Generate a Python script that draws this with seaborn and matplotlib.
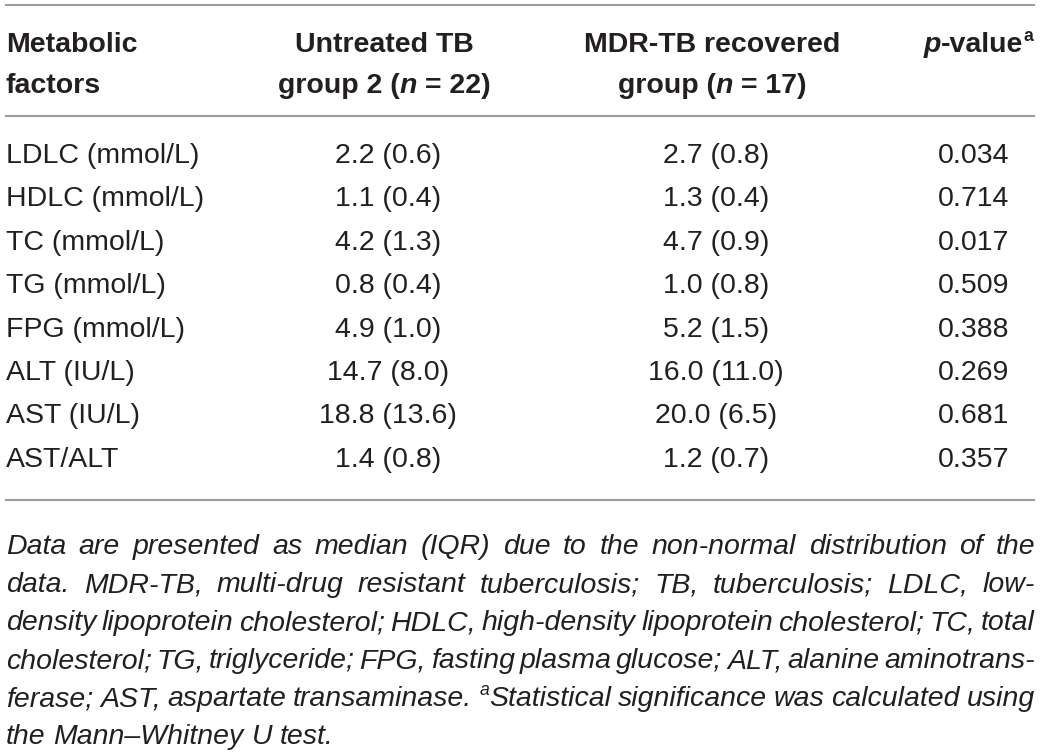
import matplotlib
matplotlib.use("Agg")
import matplotlib.pyplot as plt
import seaborn as sns

# table values
factors = ["LDLC (mmol/L)", "HDLC (mmol/L)", "TC (mmol/L)", "TG (mmol/L)",
           "FPG (mmol/L)", "ALT (IU/L)", "AST (IU/L)", "AST/ALT"]
untreated_median = [2.2, 1.1, 4.2, 0.8, 4.9, 14.7, 18.8, 1.4]
untreated_iqr = [0.6, 0.4, 1.3, 0.4, 1.0, 8.0, 13.6, 0.8]
recovered_median = [2.7, 1.3, 4.7, 1.0, 5.2, 16.0, 20.0, 1.2]
recovered_iqr = [0.8, 0.4, 0.9, 0.8, 1.5, 11.0, 6.5, 0.7]
p_values = [0.034, 0.714, 0.017, 0.509, 0.388, 0.269, 0.681, 0.357]

footnote_lines = [
    "Data are presented as median (IQR) due to the non-normal distribution of the",
    "data. MDR-TB, multi-drug resistant tuberculosis; TB, tuberculosis; LDLC, low-",
    "density lipoprotein cholesterol; HDLC, high-density lipoprotein cholesterol; TC, total",
    "cholesterol; TG, triglyceride; FPG, fasting plasma glucose; ALT, alanine aminotrans-",
    "ferase; AST, aspartate transaminase. {a}Statistical significance was calculated using",
    "the Mann\u2013Whitney U test.",
]

sns.set_theme(style="white")
plt.rcParams["font.family"] = ["Liberation Sans", "DejaVu Sans"]

TXT = "#231f20"
FS = 20.5
REG = dict(fontsize=FS, color=TXT)
BOLD = dict(fontsize=FS, color=TXT, fontweight="bold")
BOLDIT = dict(fontsize=FS, color=TXT, fontweight="bold", fontstyle="italic")
ITAL = dict(fontsize=FS, color=TXT, fontstyle="italic")

W, H = 1040, 754
fig = plt.figure(figsize=(W / 100, H / 100), dpi=100)
ax = fig.add_axes([0, 0, 1, 1])
ax.set_xlim(0, W)
ax.set_ylim(H, 0)
ax.axis("off")
renderer = fig.canvas.get_renderer()


def split_style(st):
    d = dict(st)
    is_sup = d.pop("sup", False)
    return d, is_sup


def text_width(s, **kw):
    t = ax.text(0, 0, s, **kw)
    w = t.get_window_extent(renderer).width
    t.remove()
    return w


def space_width(**kw):
    return text_width("a a", **kw) - text_width("aa", **kw)


def draw_runs(x, y, runs, ha="left"):
    # runs: (text, style, space_before)
    widths = []
    for s, st, sp in runs:
        st, _ = split_style(st)
        widths.append(text_width(s, **st) + (space_width(**st) if sp else 0))
    total = sum(widths)
    if ha == "center":
        x = x - total / 2
    elif ha == "right":
        x = x - total
    for (s, st, sp), w in zip(runs, widths):
        st, is_sup = split_style(st)
        dy = -11 if is_sup else 0
        off = space_width(**st) if sp else 0
        ax.text(x + off, y + dy, s, ha="left", va="baseline", **st)
        x += w


def sup(st):
    d = dict(st)
    d["fontsize"] = FS * 0.62
    d["sup"] = True
    return d


# rules
for yy in [5, 116, 500]:
    ax.plot([5, 1035], [yy, yy], color="#9c9c9c", lw=1.5, solid_capstyle="butt")

col_x = [6, 388, 716, 974]

# header
draw_runs(col_x[0], 52, [("Metabolic", BOLD, False)])
draw_runs(col_x[0], 93, [("factors", BOLD, False)])
draw_runs(384, 52, [("Untreated TB", BOLD, False)], ha="center")
draw_runs(384, 93, [("group 2 (", BOLD, False), ("n", BOLDIT, False),
                    ("= 22)", BOLD, True)], ha="center")
draw_runs(712, 52, [("MDR-TB recovered", BOLD, False)], ha="center")
draw_runs(712, 93, [("group (", BOLD, False), ("n", BOLDIT, False),
                    ("= 17)", BOLD, True)], ha="center")
draw_runs(1033, 52, [("p", BOLDIT, False), ("-value", BOLD, False),
                     ("a", sup(BOLD), False)], ha="right")

# body rows
row_y0, row_step = 163, 43.4
for i, f in enumerate(factors):
    y = row_y0 + i * row_step
    ax.text(col_x[0], y, f, ha="left", va="baseline", **REG)
    ax.text(col_x[1], y, f"{untreated_median[i]:.1f} ({untreated_iqr[i]:.1f})",
            ha="center", va="baseline", **REG)
    ax.text(col_x[2], y, f"{recovered_median[i]:.1f} ({recovered_iqr[i]:.1f})",
            ha="center", va="baseline", **REG)
    ax.text(col_x[3], y, f"{p_values[i]:.3f}", ha="center", va="baseline", **REG)


# footnote, justified
def word_runs(word):
    if word.startswith("{a}"):
        return [("a", sup(ITAL), False), (word[3:], ITAL, False)]
    return [(word, ITAL, False)]


def runs_width(runs):
    tot = 0
    for s, st, _ in runs:
        st, _ = split_style(st)
        tot += text_width(s, **st)
    return tot


left, right = 6, 1035
foot_y0, foot_step = 554, 38
for j, line in enumerate(footnote_lines):
    y = foot_y0 + j * foot_step
    words = line.split(" ")
    wr = [word_runs(w) for w in words]
    ww = [runs_width(r) for r in wr]
    if j < len(footnote_lines) - 1:
        gap = (right - left - sum(ww)) / (len(words) - 1)
    else:
        gap = space_width(**ITAL)
    x = left
    for r, w in zip(wr, ww):
        draw_runs(x, y, r)
        x += w + gap

fig.savefig("out.png", dpi=100, facecolor="white")
